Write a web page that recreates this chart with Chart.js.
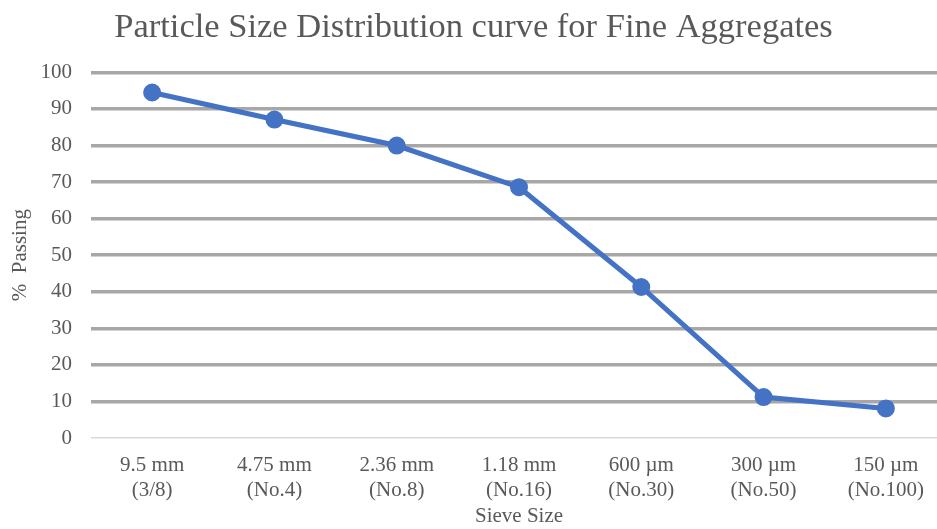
<!DOCTYPE html>
<html><head><meta charset="utf-8">
<script src="https://cdn.jsdelivr.net/npm/chart.js@4/dist/chart.umd.min.js"></script>
<style>html,body{margin:0;padding:0;overflow:hidden;background:#fff;}
#wrap{position:absolute;left:0;top:0;width:947px;height:529px;}</style>
</head><body>
<div id="wrap"><canvas id="c" width="947" height="529" style="width:947px;height:529px;display:block"></canvas></div>
<script>
const categories = [["9.5 mm","(3/8)"],["4.75 mm","(No.4)"],["2.36 mm","(No.8)"],["1.18 mm","(No.16)"],["600 µm","(No.30)"],["300 µm","(No.50)"],["150 µm","(No.100)"]];
const percentPassing = [94.5, 87.1, 80.0, 68.6, 41.3, 11.2, 8.1];
const yTicks = [0,10,20,30,40,50,60,70,80,90,100];

const serif = "'Liberation Serif', 'Times New Roman', serif";
const txt = '#595959';
new Chart(document.getElementById('c'), {
  type: 'line',
  data: { labels: categories, datasets: [{
    data: percentPassing, borderColor: '#4472C4', backgroundColor: '#4472C4',
    borderWidth: 5, pointRadius: 6.5, pointHoverRadius: 6.5, tension: 0, fill: false
  }]},
  options: {
    responsive: false, animation: false,
    layout: { autoPadding: false, padding: { left: 0, right: 0, top: 0, bottom: 0 } },
    plugins: {
      legend: { display: false }, tooltip: { enabled: false },
      title: { display: true, text: 'Particle Size Distribution curve for Fine Aggregates',
        color: txt, font: { family: serif, size: 34.5, weight: 'normal' }, padding: { top: 7, bottom: 24 } }
    },
    scales: {
      x: {
        offset: true,
        afterFit: (s) => { s.height = 91; s.paddingLeft = 0; s.paddingRight = 0; },
        grid: { display: false, drawTicks: false },
        border: { display: false },
        ticks: { color: txt, font: { family: serif, size: 21 }, padding: 15, maxRotation: 0, autoSkip: false },
        title: { display: true, text: 'Sieve Size', color: txt, font: { family: serif, size: 21 }, padding: { top: 0, bottom: 0 } }
      },
      y: {
        min: 0, max: 100,
        afterFit: (s) => { s.width = 91; },
        afterBuildTicks: (ax) => { ax.ticks = yTicks.map(v => ({ value: v })); },
        grid: {
          color: (ctx) => ctx.tick && ctx.tick.value === 0 ? '#d9d9d9' : '#a8a6a6',
          lineWidth: (ctx) => ctx.tick && ctx.tick.value === 0 ? 1.5 : 3.5,
          drawTicks: false
        },
        border: { display: false },
        ticks: { color: txt, font: { family: serif, size: 21 }, padding: 19 },
        title: { display: true, text: '%  Passing', color: txt, font: { family: serif, size: 21 }, padding: { top: 8, bottom: 0 } }
      }
    }
  }
});
</script>
</body></html>
